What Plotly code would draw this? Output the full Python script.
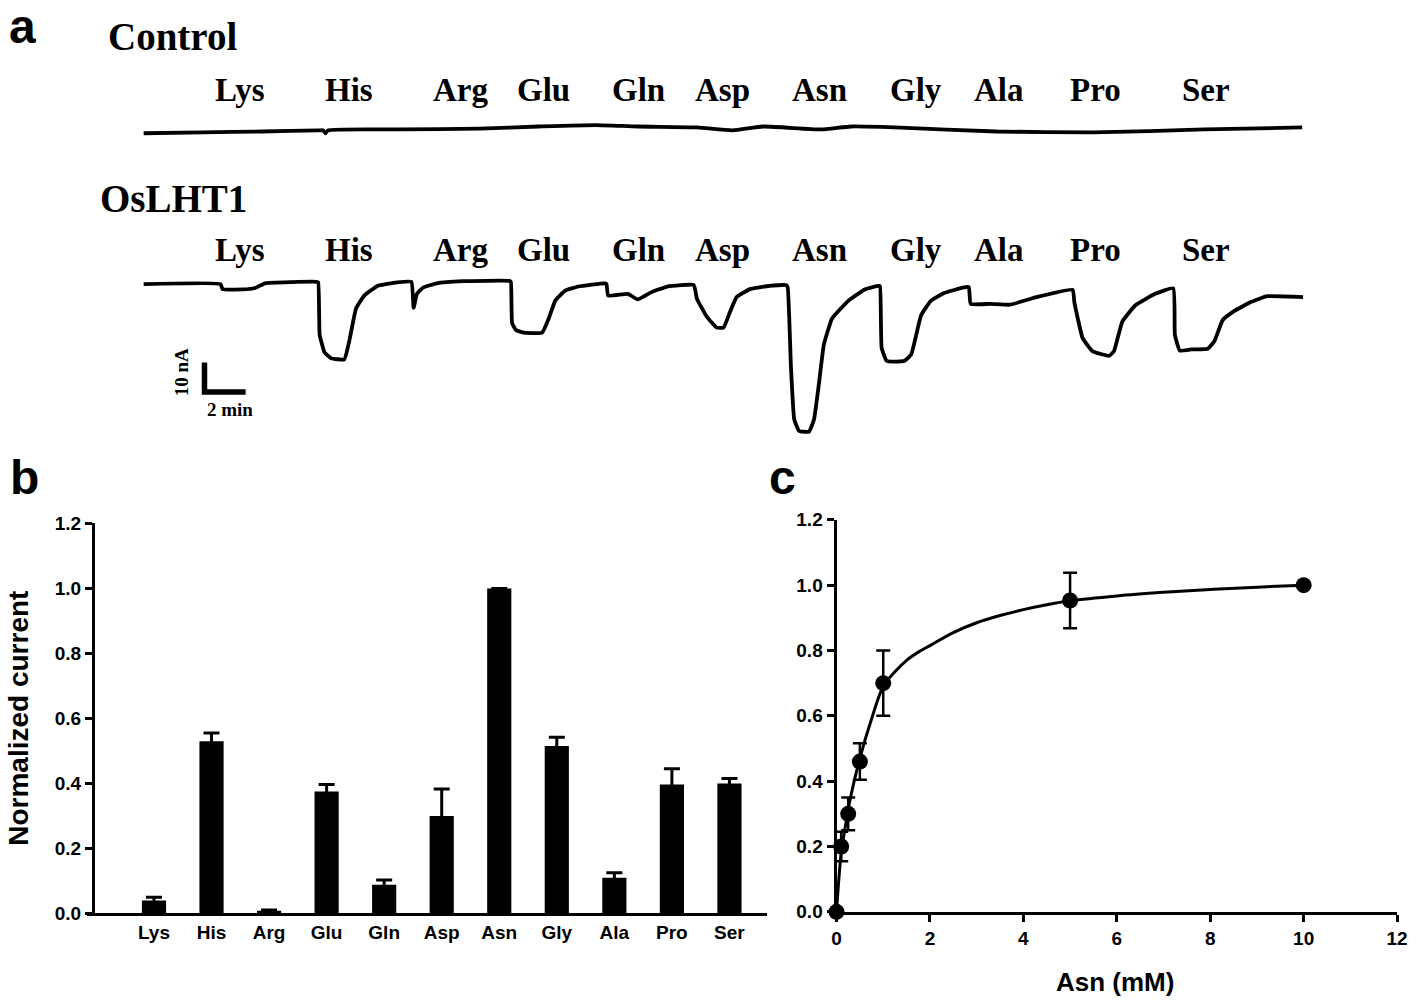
import plotly.graph_objects as go

W, H = 1418, 1007
SERIF = "Liberation Serif"
SANS = "Liberation Sans"

# ---------------- data ----------------
# panel a: current traces (time in min, current in nA)
control_t = [0, 2.88, 5.77, 8.56, 8.75, 8.85, 8.99, 12.5, 16.35, 19.23, 22.02, 24.04, 26.92,
             28.65, 30.14, 32.93, 34.42, 36.54, 41.49, 46.20, 51.59, 56.35]
control_i = [-0.3, 0, 0.3, 0.7, 0.7, -0.3, 0.7, 1.0, 1.3, 2.0, 2.5, 2.0, 1.7,
             0.7, 2.0, 1.0, 2.0, 1.7, 0.3, 0, 1.0, 1.7]

lht1_t = [0, 3.75, 3.85, 4.81, 5.43, 5.91, 7.21, 8.41, 8.50, 8.57, 8.81, 9.13, 9.77, 10.01,
          10.34, 10.74, 11.38, 12.34, 13.03, 13.14, 13.30, 13.62, 14.26, 15.54, 17.79, 17.87,
          17.93, 18.13, 18.51, 19.39, 19.71, 20.03, 20.51, 21.15, 22.44, 22.52, 22.60, 23.56,
          24.04, 24.68, 25.48, 26.76, 26.92, 27.40, 27.88, 28.21, 28.53, 28.85, 29.49, 30.45,
          31.25, 31.33, 31.49, 31.65, 31.89, 32.37, 32.61, 32.85, 33.09, 33.49, 34.29, 35.10,
          35.74, 35.82, 35.90, 36.14, 36.54, 37.02, 37.34, 37.82, 38.30, 38.94, 39.90, 40.14,
          40.23, 41.19, 42.15, 43.43, 45.19, 45.27, 45.67, 46.15, 46.96, 47.20, 47.60, 48.24,
          49.20, 50.08, 50.16, 50.40, 50.96, 51.76, 52.08, 52.49, 53.04, 53.85, 54.65, 56.41]
lht1_i = [0, 0, -1.7, -1.8, -1.3, 0.3, 0.7, 0.8, 0.6, -17.2, -23.3, -25.2, -25.6, -19.4,
          -8.3, -3.9, -0.6, 0.6, 0.8, -8.1, -3.3, -1.1, 0.3, 1.0, 1.1, 0.7,
          -13.3, -15.7, -16.5, -16.5, -11.7, -5.6, -2.2, -0.8, 0.3, 0, -3.9, -3.3,
          -5.2, -2.8, -0.8, -0.3, -5.0, -11.1, -14.8, -14.8, -9.4, -4.4, -1.7, -0.6,
          -0.3, -1.0, -28.3, -46.1, -50.0, -50.2, -46.1, -33.9, -20.6, -11.7, -5.6, -1.7,
          -0.6, -0.7, -21.7, -26.1, -26.4, -26.1, -23.9, -10.6, -5.6, -3.0, -1.1, -1.0,
          -6.7, -6.7, -7.0, -4.4, -1.9, -6.1, -18.3, -22.8, -24.4, -22.8, -12.8, -7.2,
          -3.3, -1.4, -17.2, -22.6, -22.2, -22.0, -19.4, -12.2, -9.2, -6.1, -4.1, -4.4]

amino_acids = ["Lys", "His", "Arg", "Glu", "Gln", "Asp", "Asn", "Gly", "Ala", "Pro", "Ser"]

# panel b: normalized current
norm_current = [0.04, 0.53, 0.008, 0.375, 0.088, 0.30, 1.0, 0.515, 0.11, 0.397, 0.40]
norm_err = [0.01, 0.025, 0.003, 0.022, 0.015, 0.083, 0.0, 0.027, 0.015, 0.048, 0.015]

# panel c: Asn dose response
asn_mm = [0, 0.1, 0.25, 0.5, 1, 5, 10]
asn_resp = [0, 0.20, 0.30, 0.46, 0.70, 0.953, 1.0]
asn_err = [0, 0.045, 0.05, 0.056, 0.10, 0.085, 0]
fit_x = [0, 0.05, 0.1, 0.2, 0.3, 0.5, 0.75, 1, 1.25, 1.5, 1.75, 2, 2.5, 3, 3.5, 4, 4.5,
         5, 6, 7, 8, 9, 10]
fit_y = [0, 0.10, 0.18, 0.27, 0.35, 0.47, 0.59, 0.69, 0.735, 0.77, 0.795, 0.815, 0.855,
         0.885, 0.907, 0.925, 0.94, 0.952, 0.967, 0.978, 0.987, 0.994, 1.0]

x_ticks_c = [0, 2, 4, 6, 8, 10, 12]
y_ticks = [0, 0.2, 0.4, 0.6, 0.8, 1.0, 1.2]


def fx(px):
    return px / W


def fy(py):
    return 1 - py / H


fig = go.Figure()

# ---------------- panel a ----------------
fig.add_trace(go.Scatter(x=control_t, y=control_i, mode="lines", xaxis="x", yaxis="y",
                         line=dict(color="black", width=3.8, shape="spline", smoothing=0.5),
                         hoverinfo="skip"))
fig.add_trace(go.Scatter(x=lht1_t, y=lht1_i, mode="lines", xaxis="x2", yaxis="y2",
                         line=dict(color="black", width=3.8, shape="spline", smoothing=0.35),
                         hoverinfo="skip"))
# scale bar: 10 nA x 2 min
sb_t0, sb_i0 = 2.97, -36.7
fig.add_trace(go.Scatter(x=[sb_t0, sb_t0, sb_t0 + 2], y=[sb_i0 + 10, sb_i0, sb_i0], mode="lines",
                         xaxis="x2", yaxis="y2", line=dict(color="black", width=5.5),
                         hoverinfo="skip"))

# ---------------- panel b ----------------
fig.add_trace(go.Bar(x=amino_acids, y=norm_current, xaxis="x3", yaxis="y3", width=0.42,
                     marker=dict(color="black", line=dict(width=0)),
                     error_y=dict(type="data", array=norm_err, color="black",
                                  thickness=3, width=8)))

# ---------------- panel c ----------------
fig.add_trace(go.Scatter(x=fit_x, y=fit_y, mode="lines", xaxis="x4", yaxis="y4",
                         line=dict(color="black", width=3, shape="spline", smoothing=1.0),
                         hoverinfo="skip"))
fig.add_trace(go.Scatter(x=asn_mm, y=asn_resp, mode="markers", xaxis="x4", yaxis="y4",
                         marker=dict(color="black", size=16),
                         error_y=dict(type="data", array=asn_err, color="black",
                                      thickness=2.5, width=7),
                         cliponaxis=False))

tickfont = dict(family=SANS, size=19, color="black", weight="bold")

fig.update_layout(
    width=W, height=H, margin=dict(l=0, r=0, t=0, b=0),
    paper_bgcolor="white", plot_bgcolor="white", showlegend=False,
    xaxis=dict(domain=[fx(140), fx(1313)], range=[0, 56.4], visible=False, anchor="y"),
    yaxis=dict(domain=[fy(145), fy(105)], range=[-6.67, 6.67], visible=False, anchor="x"),
    xaxis2=dict(domain=[fx(140), fx(1313)], range=[0, 56.4], visible=False, anchor="y2"),
    yaxis2=dict(domain=[fy(445), fy(265)], range=[-55, 5], visible=False, anchor="x2"),
    xaxis3=dict(domain=[fx(83), fx(771)], range=[-1.163, 10.658], anchor="y3",
                showline=True, linecolor="black", linewidth=3, ticks="",
                showgrid=False, zeroline=False, tickfont=tickfont),
    yaxis3=dict(domain=[fy(922.7), fy(524.3)], range=[0, 1.2], anchor="free", position=fx(89),
                showline=True, linecolor="black", linewidth=3, ticks="outside",
                ticklen=7, tickwidth=3, tickcolor="black", tickvals=y_ticks, tickformat=".1f",
                showgrid=False, zeroline=False, tickfont=tickfont),
    xaxis4=dict(domain=[fx(841), fx(1408)], range=[0, 12], anchor="y4",
                showline=True, linecolor="black", linewidth=3, ticks="outside",
                ticklen=7, tickwidth=3, tickcolor="black", tickvals=x_ticks_c,
                ticklabeloverflow="allow",
                showgrid=False, zeroline=False, tickfont=tickfont),
    yaxis4=dict(domain=[fy(921), fy(520.7)], range=[0, 1.2], anchor="x4",
                showline=True, linecolor="black", linewidth=3, ticks="outside",
                ticklen=7, tickwidth=3, tickcolor="black", tickvals=y_ticks, tickformat=".1f",
                showgrid=False, zeroline=False, tickfont=tickfont),
)

ann = []


def add_text(text, px, py, family, size, angle=0, xanchor="center", yanchor="middle"):
    ann.append(dict(text=text, x=fx(px), y=fy(py), xref="paper", yref="paper",
                    showarrow=False, xanchor=xanchor, yanchor=yanchor, textangle=angle,
                    font=dict(family=family, size=size, color="black", weight="bold")))


add_text("a", 18, 17, SANS, 48)
add_text("b", 20, 477, SANS, 48)
add_text("c", 786, 477, SANS, 48)
add_text("Control", 102, 27, SERIF, 39, xanchor="left")
add_text("OsLHT1", 94, 193, SERIF, 39, xanchor="left")

aa_px = [238, 348, 461, 545, 641, 726, 824, 921, 1005, 1103, 1215]
for name, px in zip(amino_acids, aa_px):
    add_text(name, px, 82, SERIF, 33)
    add_text(name, px, 245, SERIF, 33)

add_text("10 nA", 178, 370, SERIF, 19, angle=-90)
add_text("2 min", 228, 408, SERIF, 19)
add_text("Normalized current", 14, 723, SANS, 28, angle=-90)
add_text("Asn (mM)", 1123, 993, SANS, 26)

fig.update_layout(annotations=ann)
fig.write_html("out.html", config={"displayModeBar": False},
               post_script="document.body.style.margin='0px';document.body.style.overflow='hidden';")
